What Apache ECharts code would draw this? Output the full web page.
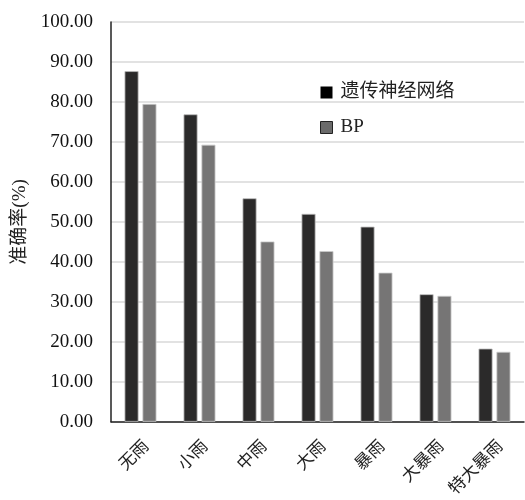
<!DOCTYPE html>
<html><head><meta charset="utf-8">
<script src="https://cdn.jsdelivr.net/npm/echarts@6/dist/echarts.min.js"></script>
<style>html,body{margin:0;padding:0;background:#fff}#c{width:525px;height:500px}</style>
</head><body><div id="c"></div>
<script>
const categories = ['无雨','小雨','中雨','大雨','暴雨','大暴雨','特大暴雨'];
const gaValues = [87.7, 76.9, 55.9, 52.0, 48.8, 31.9, 18.3];
const bpValues = [79.5, 69.3, 45.1, 42.7, 37.3, 31.5, 17.5];
const seriesNames = ['遗传神经网络','BP'];
const serif = '"Liberation Serif", "Noto Sans CJK SC", serif';
const chart = echarts.init(document.getElementById('c'));
chart.setOption({
  animation:false,
  grid:{left:111,right:1,top:22,bottom:78},
  legend:{
    orient:'vertical', left:315, top:78, itemWidth:12, itemHeight:12, itemGap:16, icon:'rect',
    textStyle:{fontFamily:serif,fontSize:19,color:'#222',padding:[0,0,0,3]},
    data:[{name:seriesNames[0],itemStyle:{color:'#000',borderWidth:0}},{name:seriesNames[1],itemStyle:{color:'#6a6a6a',borderColor:'#222',borderWidth:1}}]
  },
  xAxis:{type:'category',data:categories,
    axisLine:{lineStyle:{color:'#222',width:1.5}},axisTick:{show:false},
    axisLabel:{rotate:45,fontFamily:serif,fontSize:17,color:'#222',margin:16,verticalAlign:'top'}},
  yAxis:{type:'value',min:0,max:100,interval:10,
    name:'准确率(%)',nameLocation:'middle',nameGap:75,nameRotate:90,
    nameTextStyle:{fontFamily:serif,fontSize:19,color:'#222'},
    axisLine:{show:true,lineStyle:{color:'#222',width:1.5}},axisTick:{show:false},
    axisLabel:{fontFamily:serif,fontSize:19,color:'#111',margin:18,formatter:v=>v.toFixed(2)},
    splitLine:{lineStyle:{color:'#d9d9d9',width:1.5}}},
  series:[
    {name:seriesNames[0],type:'bar',data:gaValues,barWidth:14,barGap:'28%',
     itemStyle:{color:'#2b2a2a',borderColor:'#bbb',borderWidth:0.8}},
    {name:seriesNames[1],type:'bar',data:bpValues,barWidth:14,
     itemStyle:{color:'#767575',borderColor:'#ccc',borderWidth:0.8}}
  ]
});
</script></body></html>
